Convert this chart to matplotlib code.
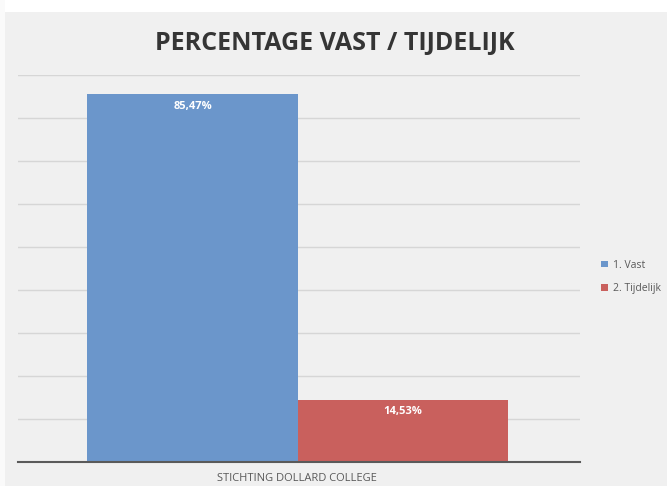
import numpy as np
import matplotlib.pyplot as plt
from matplotlib.patches import Rectangle

categories = ["1. Vast", "2. Tijdelijk"]
values = [85.47, 14.53]
labels = ["85,47%", "14,53%"]
colors = ["#6b96cb", "#c9605d"]
group_label = "STICHTING DOLLARD COLLEGE"
title = "PERCENTAGE VAST / TIJDELIJK"

fig = plt.figure(figsize=(6.67, 4.86), dpi=100, facecolor="#f0f0f0")

# light frame around the chart area
fig.patches.append(Rectangle((0, 0.975), 1, 0.025, transform=fig.transFigure,
                             facecolor="white", edgecolor="none", zorder=0))
fig.patches.append(Rectangle((0, 0), 0.008, 1, transform=fig.transFigure,
                             facecolor="#fafafa", edgecolor="none", zorder=0))

ax = fig.add_axes([18 / 667, 1 - 462 / 486, 562 / 667, 387 / 486])
ax.set_facecolor("none")

x = np.array([-0.5, 0.5])
bars = ax.bar(x, values, width=1.0, color=colors, zorder=3)

for xi, v, lab in zip(x, values, labels):
    ax.text(xi, v - 2.8, lab, ha="center", va="center", color="white",
            fontsize=8, fontweight="bold", family="Open Sans", zorder=4)

ax.set_ylim(0, 90)
ax.set_xlim(-1.33, 1.34)
ax.set_yticks(np.arange(10, 91, 10))
ax.yaxis.grid(True, color="#d6d6d6", linewidth=1.0)
ax.set_axisbelow(True)
ax.tick_params(left=False, labelleft=False, bottom=False, labelbottom=False)
for side in ("top", "right", "left"):
    ax.spines[side].set_visible(False)
ax.spines["bottom"].set_color("#5a5a5a")
ax.spines["bottom"].set_linewidth(1.5)
ax.spines["bottom"].set_zorder(5)

fig.text(297 / 667, 1 - 478 / 486, group_label, ha="center", va="center",
         fontsize=8, color="#595959", family="Open Sans")

fig.text(335 / 667, 1 - 43 / 486, title, ha="center", va="center",
         fontsize=18, fontweight="bold", color="#353535", family="Open Sans")

leg = ax.legend(bars, categories, loc="center left",
                bbox_to_anchor=(592 / 667, 1 - 277 / 486),
                bbox_transform=fig.transFigure, frameon=False,
                handlelength=0.6, handleheight=0.6,
                handletextpad=0.5, labelspacing=1.2,
                prop={"family": "Open Sans", "size": 7.5})
for t in leg.get_texts():
    t.set_color("#595959")

fig.savefig("out.png", dpi=100, facecolor=fig.get_facecolor())
